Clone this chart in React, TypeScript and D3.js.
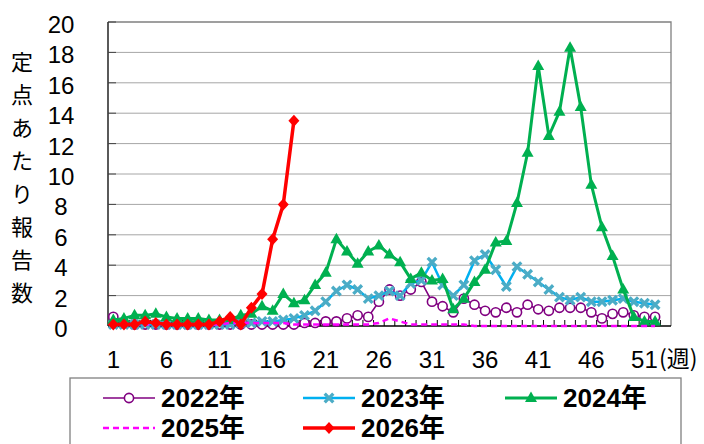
import React, { useEffect, useRef } from 'react';
import * as d3 from 'd3';

// categories: week numbers 1..53
const weeks = d3.range(1, 54);
const weekLabels = [1, 6, 11, 16, 21, 26, 31, 36, 41, 46, 51];
const yTickValues = [0, 2, 4, 6, 8, 10, 12, 14, 16, 18, 20];
const yTitle = '定点あたり報告数';

const v2022 = [
	0.6, 0.2, 0.1, 0.1, 0.1, 0.1, 0.1, 0.1, 0.1, 0.1, 0.1, 0.1, 0.1, 0.1, 0.1, 0.1, 0.1, 0.1,
	0.2, 0.2, 0.3, 0.3, 0.5, 0.7, 0.6, 1.6, 2.4, 2.0, 2.4, 2.9, 1.6, 1.3, 0.9, 1.8, 1.4, 1.0,
	0.9, 1.2, 0.9, 1.4, 1.1, 1.0, 1.2, 1.2, 1.2, 0.9, 0.5, 0.8, 0.9, 0.7, 0.6, 0.6,
];
const v2023 = [
	0.1, 0.1, 0.1, 0.1, 0.1, 0.1, 0.1, 0.1, 0.1, 0.1, 0.1, 0.1, 0.2, 0.2, 0.3, 0.3, 0.4, 0.5,
	0.7, 1.0, 1.6, 2.3, 2.7, 2.4, 1.8, 2.0, 2.3, 2.0, 2.8, 3.0, 4.2, 2.7, 2.0, 2.7, 4.3, 4.7,
	3.7, 2.6, 3.9, 3.4, 2.9, 2.4, 1.9, 1.7, 1.9, 1.6, 1.6, 1.7, 1.8, 1.6, 1.5, 1.4,
];
const v2024 = [
	0.4, 0.5, 0.7, 0.7, 0.8, 0.6, 0.5, 0.5, 0.5, 0.4, 0.4, 0.4, 0.7, 0.8, 1.3, 1.0, 2.1, 1.5,
	1.7, 2.7, 3.5, 5.7, 4.9, 4.1, 4.9, 5.3, 4.7, 4.2, 3.1, 3.5, 3.0, 3.1, 1.1, 1.8, 2.9, 3.7,
	5.5, 5.6, 8.1, 11.4, 17.1, 12.5, 14.1, 18.3, 14.4, 9.3, 6.5, 4.6, 2.4, 0.6, 0.3, 0.3,
];
const v2025 = [
	0.1, 0.1, 0.1, 0.1, 0.1, 0.1, 0.1, 0.1, 0.1, 0.1, 0.1, 0.2, 0.2, 0.2, 0.2, 0.2, 0.2, 0.1,
	0.1, 0.1, 0.1, 0.1, 0.1, 0.1, 0.1, 0.2, 0.5, 0.3, 0.1, 0.1, 0.1, 0.1, 0.1, 0.1, 0.0, 0.0,
	0.0, 0.0, 0.0, 0.0, 0.0, 0.0, 0.0, 0.0, 0.0, 0.0, 0.0, 0.0, 0.0, 0.0, 0.0, 0.0,
];
const v2026 = [0.1, 0.1, 0.1, 0.3, 0.2, 0.1, 0.1, 0.1, 0.1, 0.1, 0.3, 0.6, 0.1, 1.2, 2.1, 5.7, 8.0, 13.5];

const series = [
	{ name: '2022年', values: v2022, color: '#800080', marker: 'circle', width: 1.6, dash: null },
	{ name: '2023年', values: v2023, color: '#00B0F0', marker: 'x', width: 2.5, dash: null },
	{ name: '2024年', values: v2024, color: '#00B050', marker: 'triangle', width: 3, dash: null },
	{ name: '2025年', values: v2025, color: '#FF00FF', marker: 'none', width: 2.5, dash: '6 4' },
	{ name: '2026年', values: v2026, color: '#FF0000', marker: 'diamond', width: 3.5, dash: null },
];

const NUM_FONT = '"Liberation Sans", Arial, "Noto Sans CJK JP", sans-serif';
const JP_FONT = '"Noto Sans CJK JP", sans-serif';

function drawMarker(g, type, color, px, py) {
	if (type === 'circle') {
		g.append('circle')
			.attr('cx', px)
			.attr('cy', py)
			.attr('r', 4.6)
			.attr('fill', '#fff')
			.attr('stroke', color)
			.attr('stroke-width', 1.6);
	} else if (type === 'x') {
		g.append('path')
			.attr('transform', `translate(${px},${py})`)
			.attr('d', 'M-4.3,-4.3L4.3,4.3M-4.3,4.3L4.3,-4.3')
			.attr('stroke', '#4BACC6')
			.attr('stroke-width', 3.3)
			.attr('fill', 'none');
	} else if (type === 'triangle') {
		g.append('path')
			.attr('transform', `translate(${px},${py})`)
			.attr('d', 'M0,-6.5L6,4L-6,4Z')
			.attr('fill', color);
	} else if (type === 'diamond') {
		g.append('path')
			.attr('transform', `translate(${px},${py})`)
			.attr('d', 'M0,-6L5.5,0L0,6L-5.5,0Z')
			.attr('fill', color);
	}
}

export default function App() {
	const svgRef = useRef<SVGSVGElement>(null);

	useEffect(() => {
		const svg = d3.select(svgRef.current);
		svg.selectAll('*').remove();

		const left = 108;
		const right = 671;
		const top = 22;
		const bottom = 326;

		const x = d3.scaleBand<number>().domain(weeks).range([left, right]);
		const cx = (w: number) => (x(w) as number) + x.bandwidth() / 2;
		const y = d3.scaleLinear().domain([0, 20]).range([bottom, top]);

		// grid
		svg.append('g')
			.selectAll('line')
			.data(yTickValues.filter((v) => v > 0 && v < 20))
			.join('line')
			.attr('x1', left)
			.attr('x2', right)
			.attr('y1', (d) => y(d))
			.attr('y2', (d) => y(d))
			.attr('stroke', '#a6a6a6')
			.attr('stroke-width', 1);

		// frame (top / right gray)
		svg.append('path')
			.attr('d', `M${left},${y(20)}H${right}V${bottom}`)
			.attr('fill', 'none')
			.attr('stroke', '#808080')
			.attr('stroke-width', 1.3);

		// axes
		svg.append('line')
			.attr('x1', left).attr('x2', left)
			.attr('y1', top).attr('y2', bottom)
			.attr('stroke', '#000').attr('stroke-width', 1.3);
		svg.append('line')
			.attr('x1', left).attr('x2', right)
			.attr('y1', bottom).attr('y2', bottom)
			.attr('stroke', '#000').attr('stroke-width', 1.3);

		// y ticks (inside)
		svg.append('g')
			.selectAll('line')
			.data(yTickValues)
			.join('line')
			.attr('x1', left).attr('x2', left + 8)
			.attr('y1', (d) => y(d)).attr('y2', (d) => y(d))
			.attr('stroke', '#444').attr('stroke-width', 1);

		// x ticks at band boundaries (inside)
		svg.append('g')
			.selectAll('line')
			.data(weeks.slice(1))
			.join('line')
			.attr('x1', (d) => x(d) as number)
			.attr('x2', (d) => x(d) as number)
			.attr('y1', bottom).attr('y2', bottom - 6)
			.attr('stroke', '#000').attr('stroke-width', 1);

		// y labels
		svg.append('g')
			.selectAll('text')
			.data(yTickValues)
			.join('text')
			.attr('x', 61)
			.attr('y', (d) => y(d) + 11)
			.attr('text-anchor', 'middle')
			.style('font-family', NUM_FONT)
			.style('font-size', '24px')
			.text((d) => d);

		// x labels
		svg.append('g')
			.selectAll('text')
			.data(weekLabels)
			.join('text')
			.attr('x', (d) => cx(d))
			.attr('y', 368)
			.attr('text-anchor', 'middle')
			.style('font-family', NUM_FONT)
			.style('font-size', '24px')
			.text((d) => d);
		svg.append('text')
			.attr('x', 659)
			.attr('y', 367)
			.style('font-family', JP_FONT)
			.style('font-size', '23px')
			.text('(週)');

		// y title, vertical
		svg.append('g')
			.selectAll('text')
			.data(yTitle.split(''))
			.join('text')
			.attr('x', 22)
			.attr('y', (d, i) => 70 + i * 33)
			.attr('text-anchor', 'middle')
			.style('font-family', JP_FONT)
			.style('font-size', '22px')
			.text((d) => d);

		// series
		const line = d3
			.line<number>()
			.x((d, i) => cx(weeks[i]))
			.y((d) => y(d));

		series.forEach((s) => {
			const g = svg.append('g');
			g.append('path')
				.datum(s.values)
				.attr('fill', 'none')
				.attr('stroke', s.color)
				.attr('stroke-width', s.width)
				.attr('stroke-dasharray', s.dash)
				.attr('stroke-linejoin', 'round')
				.attr('d', line);
			s.values.forEach((v, i) => drawMarker(g, s.marker, s.color, cx(weeks[i]), y(v)));
		});

		// legend
		svg.append('rect')
			.attr('x', 70)
			.attr('y', 378)
			.attr('width', 611)
			.attr('height', 90)
			.attr('fill', '#fff')
			.attr('stroke', '#808080')
			.attr('stroke-width', 1.3);

		const legendPos = [
			[103, 398],
			[303, 398],
			[505, 398],
			[103, 428],
			[303, 428],
		];
		series.forEach((s, i) => {
			const [lx, ly] = legendPos[i];
			const g = svg.append('g');
			g.append('line')
				.attr('x1', lx)
				.attr('x2', lx + 52)
				.attr('y1', ly)
				.attr('y2', ly)
				.attr('stroke', s.color)
				.attr('stroke-width', s.width)
				.attr('stroke-dasharray', s.dash);
			drawMarker(g, s.marker, s.color, lx + 26, ly);
			g.append('text')
				.attr('x', lx + 58)
				.attr('y', ly + 9)
				.style('font-family', NUM_FONT)
				.style('font-size', '26px')
				.style('font-weight', 'bold')
				.text(s.name);
		});
	}, []);

	return (
		<svg
			ref={svgRef}
			width={704}
			height={444}
			style={{ position: 'absolute', left: 0, top: 0, background: '#fff' }}
		/>
	);
}
